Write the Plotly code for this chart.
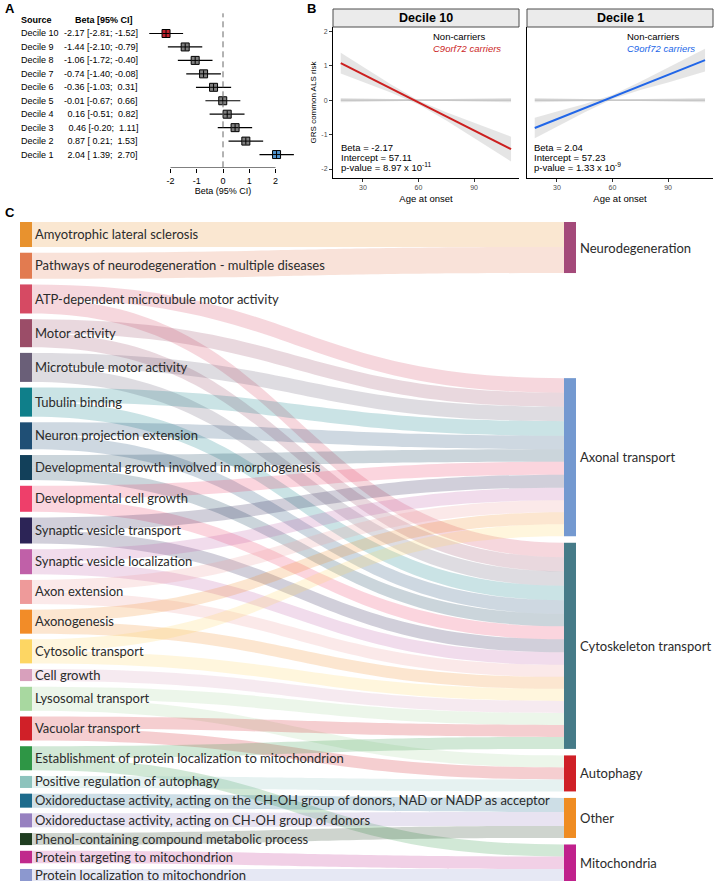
import plotly.graph_objects as go

W, H = 714, 883

# ======================= DATA =======================
# ---- Panel A : forest plot
deciles = ["Decile 10", "Decile 9", "Decile 8", "Decile 7", "Decile 6",
           "Decile 5", "Decile 4", "Decile 3", "Decile 2", "Decile 1"]
beta = [-2.17, -1.44, -1.06, -0.74, -0.36, -0.01, 0.16, 0.46, 0.87, 2.04]
ci_lower = [-2.81, -2.10, -1.72, -1.40, -1.03, -0.67, -0.51, -0.20, 0.21, 1.39]
ci_upper = [-1.52, -0.79, -0.40, -0.08, 0.31, 0.66, 0.82, 1.11, 1.53, 2.70]
forest_ticks = [-2, -1, 0, 1, 2]
forest_ticktext = ["-2", "-1", "0", "1", "2"]

# ---- Panel B : age at onset vs GRS
facet_titles = ["Decile 10", "Decile 1"]
fit_age = [18, 110]
carrier_fit_d10 = [1.07, -1.42]
carrier_fit_d1 = [-0.81, 1.16]
noncarrier_fit = [0.0, 0.0]
band_age = [18, 30, 45, 60, 75, 90, 110]
d10_lower = [0.77, 0.52, 0.22, -0.13, -0.59, -1.10, -1.78]
d10_upper = [1.37, 0.97, 0.46, -0.01, -0.35, -0.66, -1.06]
d1_lower = [-1.11, -0.77, -0.35, 0.03, 0.29, 0.51, 0.83]
d1_upper = [-0.51, -0.33, -0.11, 0.15, 0.53, 0.95, 1.49]
nc_lower = [-0.06, -0.045, -0.03, -0.02, -0.03, -0.045, -0.06]
nc_upper = [0.06, 0.045, 0.03, 0.02, 0.03, 0.045, 0.06]
stats_d10 = ["Beta = -2.17", "Intercept = 57.11", "p-value = 8.97 x 10<sup>-11</sup>"]
stats_d1 = ["Beta = 2.04", "Intercept = 57.23", "p-value = 1.33 x 10<sup>-9</sup>"]
age_ticks = [30, 60, 90]
grs_ticks = [-2, -1, 0, 1, 2]
grs_ticktext = ["-2", "-1", "0", "1", "2"]

# ---- Panel C : sankey
pathways = [
    "Amyotrophic lateral sclerosis",
    "Pathways of neurodegeneration - multiple diseases",
    "ATP-dependent microtubule motor activity",
    "Motor activity",
    "Microtubule motor activity",
    "Tubulin binding",
    "Neuron projection extension",
    "Developmental growth involved in morphogenesis",
    "Developmental cell growth",
    "Synaptic vesicle transport",
    "Synaptic vesicle localization",
    "Axon extension",
    "Axonogenesis",
    "Cytosolic transport",
    "Cell growth",
    "Lysosomal transport",
    "Vacuolar transport",
    "Establishment of protein localization to mitochondrion",
    "Positive regulation of autophagy",
    "Oxidoreductase activity, acting on the CH-OH group of donors, NAD or NADP as acceptor",
    "Oxidoreductase activity, acting on CH-OH group of donors",
    "Phenol-containing compound metabolic process",
    "Protein targeting to mitochondrion",
    "Protein localization to mitochondrion",
]
pathway_colors = [
    "#e8922e", "#e27b50", "#d64a63", "#9b4d68", "#6a5f78", "#0f7f8a",
    "#1f4f75", "#12405a", "#ee3f6a", "#2c2456", "#c060a8", "#ee9a9a",
    "#f28c28", "#fdd663", "#d8a0bc", "#a8d8a0", "#d02028", "#2e9645",
    "#8dc3bd", "#1d6b8c", "#9781c0", "#1f3d20", "#c02a8c", "#8c98cf",
]
categories = ["Neurodegeneration", "Axonal transport", "Cytoskeleton transport",
              "Autophagy", "Other", "Mitochondria"]
category_colors = ["#a44a7a", "#7499d0", "#467b88", "#cf2027", "#ef8c22", "#c0218c"]

link_source = [
    "Amyotrophic lateral sclerosis",
    "Pathways of neurodegeneration - multiple diseases",
    "ATP-dependent microtubule motor activity", "ATP-dependent microtubule motor activity",
    "Motor activity", "Motor activity",
    "Microtubule motor activity", "Microtubule motor activity",
    "Tubulin binding", "Tubulin binding",
    "Neuron projection extension", "Neuron projection extension",
    "Developmental growth involved in morphogenesis", "Developmental growth involved in morphogenesis",
    "Developmental cell growth", "Developmental cell growth",
    "Synaptic vesicle transport", "Synaptic vesicle transport",
    "Synaptic vesicle localization", "Synaptic vesicle localization",
    "Axon extension", "Axon extension",
    "Axonogenesis", "Axonogenesis",
    "Cytosolic transport", "Cytosolic transport",
    "Cell growth",
    "Lysosomal transport", "Lysosomal transport",
    "Vacuolar transport", "Vacuolar transport",
    "Establishment of protein localization to mitochondrion",
    "Establishment of protein localization to mitochondrion",
    "Positive regulation of autophagy",
    "Oxidoreductase activity, acting on the CH-OH group of donors, NAD or NADP as acceptor",
    "Oxidoreductase activity, acting on CH-OH group of donors",
    "Phenol-containing compound metabolic process",
    "Protein targeting to mitochondrion",
    "Protein localization to mitochondrion",
]
link_target = [
    "Neurodegeneration", "Neurodegeneration",
    "Axonal transport", "Cytoskeleton transport",
    "Axonal transport", "Cytoskeleton transport",
    "Axonal transport", "Cytoskeleton transport",
    "Axonal transport", "Cytoskeleton transport",
    "Axonal transport", "Cytoskeleton transport",
    "Axonal transport", "Cytoskeleton transport",
    "Axonal transport", "Cytoskeleton transport",
    "Axonal transport", "Cytoskeleton transport",
    "Axonal transport", "Cytoskeleton transport",
    "Axonal transport", "Cytoskeleton transport",
    "Axonal transport", "Cytoskeleton transport",
    "Axonal transport", "Cytoskeleton transport",
    "Cytoskeleton transport",
    "Cytoskeleton transport", "Autophagy",
    "Cytoskeleton transport", "Autophagy",
    "Cytoskeleton transport", "Mitochondria",
    "Autophagy",
    "Other", "Other", "Other",
    "Mitochondria", "Mitochondria",
]
link_value = [
    25, 26,
    14.5, 14.5,
    14, 14,
    14.5, 14.5,
    14.5, 14.5,
    13.5, 13.5,
    12.5, 12.5,
    13, 13,
    13, 13,
    12.5, 12.5,
    12, 12,
    12, 12,
    12, 12,
    12,
    12, 12,
    12, 12,
    12, 12,
    12,
    14, 14, 12,
    12.5, 12,
]

# ======================= HELPERS =======================
FONT = "Liberation Sans, Arial, sans-serif"
SK_FONT = "Lato, Noto Sans, sans-serif"


def fx(p):
    return p / W


def fy(p):
    return 1 - p / H


def rgba(hexc, a):
    hexc = hexc.lstrip("#")
    r, g, b = int(hexc[0:2], 16), int(hexc[2:4], 16), int(hexc[4:6], 16)
    return f"rgba({r},{g},{b},{a})"


def nb(v):
    s = f"{v:.2f}"
    return s if v < 0 else "\u00a0" + s


fig = go.Figure()
annotations = []
shapes = []

# ======================= PANEL A =======================
n_rows = len(deciles)
rows = list(range(n_rows, 0, -1))
box_colors = ["#808080"] * n_rows
box_colors[0] = "#c0232e"
box_colors[-1] = "#4f94cf"

fig.add_trace(go.Scatter(
    x=beta, y=rows, mode="markers", xaxis="x", yaxis="y", showlegend=False,
    marker=dict(symbol="square", size=8, color=box_colors, line=dict(color="black", width=1)),
    error_x=dict(type="data", symmetric=False,
                 array=[u - b for u, b in zip(ci_upper, beta)],
                 arrayminus=[b - l for l, b in zip(ci_lower, beta)],
                 color="black", thickness=1.2, width=0),
    hoverinfo="skip"))
fig.add_trace(go.Scatter(
    x=beta, y=rows, mode="markers", xaxis="x", yaxis="y", showlegend=False,
    marker=dict(symbol="cross-thin", size=5, line=dict(color="black", width=1)),
    hoverinfo="skip"))

shapes.append(dict(type="line", xref="x", yref="y", x0=0, x1=0, y0=0.05, y1=n_rows + 1.5,
                   line=dict(color="#666666", width=1, dash="6px,4px")))
shapes.append(dict(type="line", xref="x", yref="y", x0=forest_ticks[0], x1=forest_ticks[-1],
                   y0=0, y1=0, line=dict(color="black", width=1)))

annotations.append(dict(text="<b>Source</b>", xref="paper", yref="y", x=fx(19), y=n_rows + 1,
                        xanchor="left", yanchor="middle", showarrow=False,
                        font=dict(family=FONT, size=9, color="black")))
annotations.append(dict(text="<b>Beta [95% CI]</b>", xref="paper", yref="y", x=fx(104), y=n_rows + 1,
                        xanchor="center", yanchor="middle", showarrow=False,
                        font=dict(family=FONT, size=9, color="black")))
for lab, b, lo, hi, r in zip(deciles, beta, ci_lower, ci_upper, rows):
    annotations.append(dict(text=lab, xref="paper", yref="y", x=fx(19), y=r,
                            xanchor="left", yanchor="middle", showarrow=False,
                            font=dict(family=FONT, size=9, color="black")))
    annotations.append(dict(text=f"{nb(b)} [{nb(lo)}; {nb(hi)}]", xref="paper", yref="y",
                            x=fx(139.5), y=r, xanchor="right", yanchor="middle", showarrow=False,
                            font=dict(family=FONT, size=9, color="black")))

# ======================= PANEL B =======================
facet_axes = [("x2", "y2"), ("x3", "y3")]
carrier_fits = [carrier_fit_d10, carrier_fit_d1]
carrier_lows = [d10_lower, d1_lower]
carrier_highs = [d10_upper, d1_upper]
carrier_colors = ["#cc1f1f", "#2166e8"]
stats_all = [stats_d10, stats_d1]

for k, (xa, ya) in enumerate(facet_axes):
    fig.add_trace(go.Scatter(
        x=band_age + band_age[::-1], y=nc_lower + nc_upper[::-1], fill="toself",
        fillcolor="rgba(153,153,153,0.25)", line=dict(width=0), mode="lines",
        xaxis=xa, yaxis=ya, showlegend=False, hoverinfo="skip"))
    fig.add_trace(go.Scatter(
        x=fit_age, y=noncarrier_fit, mode="lines", line=dict(color="#bdbdbd", width=1.3),
        xaxis=xa, yaxis=ya, showlegend=False, hoverinfo="skip"))
    fig.add_trace(go.Scatter(
        x=band_age + band_age[::-1], y=carrier_lows[k] + carrier_highs[k][::-1], fill="toself",
        fillcolor="rgba(153,153,153,0.25)", line=dict(width=0), mode="lines",
        xaxis=xa, yaxis=ya, showlegend=False, hoverinfo="skip"))
    fig.add_trace(go.Scatter(
        x=fit_age, y=carrier_fits[k], mode="lines", line=dict(color=carrier_colors[k], width=2),
        xaxis=xa, yaxis=ya, showlegend=False, hoverinfo="skip"))

    shapes.append(dict(type="rect", xref=f"{xa} domain", yref=f"{ya} domain",
                       x0=0, x1=1, y0=1.0, y1=1 + 18 / 151,
                       fillcolor="#ebebeb", line=dict(color="#4d4d4d", width=1)))
    annotations.append(dict(text=f"<b>{facet_titles[k]}</b>", xref=f"{xa} domain", yref=f"{ya} domain",
                            x=0.5, y=1 + 9 / 151, xanchor="center", yanchor="middle", showarrow=False,
                            font=dict(family=FONT, size=12.5, color="black")))
    annotations.append(dict(text="Non-carriers", xref=xa, yref=ya, x=67, y=1.83,
                            xanchor="left", yanchor="middle", showarrow=False,
                            font=dict(family=FONT, size=9.5, color="black")))
    annotations.append(dict(text="<i>C9orf72 carriers</i>", xref=xa, yref=ya, x=67, y=1.5,
                            xanchor="left", yanchor="middle", showarrow=False,
                            font=dict(family=FONT, size=9.5, color=carrier_colors[k])))
    for txt, yy in zip(stats_all[k], [-1.38, -1.67, -1.95]):
        annotations.append(dict(text=txt, xref=xa, yref=ya, x=17 if k == 0 else 16.5, y=yy,
                                xanchor="left", yanchor="middle", showarrow=False,
                                font=dict(family=FONT, size=9.5, color="black")))

# ======================= PANEL C =======================
SK_TOP, SK_BOT, SK_LEFT, SK_RIGHT = 222, 881, 20, 576
THICK = 12
sk_h = SK_BOT - SK_TOP
sk_w = SK_RIGHT - SK_LEFT
node_pad = 5.7
right_gap = 6.5

src_tot = {p: 0.0 for p in pathways}
tgt_tot = {c: 0.0 for c in categories}
for s, t, v in zip(link_source, link_target, link_value):
    src_tot[s] += v
    tgt_tot[t] += v
ky = (sk_h - (len(pathways) - 1) * node_pad) / sum(src_tot.values())

left_centers = []
ycur = 0.0
for p in pathways:
    h = src_tot[p] * ky
    left_centers.append(ycur + h / 2)
    ycur += h + node_pad

right_centers = [0.0] * len(categories)
right_centers[0] = tgt_tot[categories[0]] * ky / 2
ycur = sk_h
for i in range(len(categories) - 1, 0, -1):
    h = tgt_tot[categories[i]] * ky
    right_centers[i] = ycur - h / 2
    ycur -= h + right_gap

node_x = [(THICK / 2) / sk_w] * len(pathways) + [(sk_w - THICK / 2) / sk_w] * len(categories)
node_y = [c / sk_h for c in left_centers] + [c / sk_h for c in right_centers]

all_nodes = pathways + categories
nidx = {n: i for i, n in enumerate(all_nodes)}
all_colors = pathway_colors + category_colors

sk_font = dict(family=SK_FONT, size=13, color="#2b2b2b")
sankey_kwargs = dict(
    domain=dict(x=[fx(SK_LEFT), fx(SK_RIGHT)], y=[fy(SK_BOT), fy(SK_TOP)]),
    arrangement="fixed",
    node=dict(label=pathways + [""] * len(categories), color=all_colors,
              x=node_x, y=node_y, pad=node_pad, thickness=THICK,
              line=dict(width=0), hoverinfo="skip"),
    link=dict(source=[nidx[s] for s in link_source], target=[nidx[t] for t in link_target],
              value=link_value, color=[rgba(pathway_colors[nidx[s]], 0.22) for s in link_source],
              hoverinfo="skip"),
)
try:
    sk = go.Sankey(textfont=dict(**sk_font, shadow="none"), **sankey_kwargs)
except Exception:
    sk = go.Sankey(textfont=sk_font, **sankey_kwargs)
fig.add_trace(sk)

# right-hand category labels (placed to the right of their node bars)
for c, yc in zip(categories, right_centers):
    annotations.append(dict(text=c, xref="paper", yref="paper", x=fx(SK_RIGHT + 2), y=fy(SK_TOP + yc),
                            xanchor="left", yanchor="middle", showarrow=False, font=sk_font))

# panel letters
for letter, (px_, py_) in zip(["A", "B", "C"], [(3, 8), (305, 8), (3, 213)]):
    annotations.append(dict(text=f"<b>{letter}</b>", xref="paper", yref="paper", x=fx(px_), y=fy(py_),
                            xanchor="left", yanchor="middle", showarrow=False,
                            font=dict(family=FONT, size=13, color="black")))

# ======================= LAYOUT =======================
tick_small = dict(family=FONT, size=7, color="#4d4d4d")
fig.update_layout(
    width=W, height=H, margin=dict(l=0, r=0, t=0, b=0),
    paper_bgcolor="white", plot_bgcolor="rgba(0,0,0,0)",
    font=dict(family=FONT), showlegend=False,
    xaxis=dict(domain=[fx(144.25), fx(301.75)], range=[-3, 3], anchor="y",
               showgrid=False, zeroline=False, showline=False,
               ticks="outside", ticklen=4, tickcolor="black", tickwidth=1,
               tickvals=forest_ticks, ticktext=forest_ticktext,
               tickfont=dict(family=FONT, size=9, color="black"),
               title=dict(text="Beta (95% CI)", font=dict(family=FONT, size=9, color="black"), standoff=2)),
    yaxis=dict(domain=[fy(168), fy(6.6)], range=[0, 12], anchor="x", visible=False),
    xaxis2=dict(domain=[fx(333), fx(519)], range=[13.8, 114.3], anchor="y2",
                showgrid=False, zeroline=False, showline=True, linecolor="black", linewidth=1,
                ticks="outside", ticklen=3, tickcolor="#333333", tickvals=age_ticks,
                tickfont=tick_small,
                title=dict(text="Age at onset", font=dict(family=FONT, size=9.5, color="black"), standoff=4)),
    yaxis2=dict(domain=[fy(178), fy(27)], range=[-2.26, 2.12], anchor="x2",
                showgrid=False, zeroline=False, showline=True, linecolor="black", linewidth=1,
                ticks="outside", ticklen=3, tickcolor="#333333",
                tickvals=grs_ticks, ticktext=grs_ticktext, tickfont=tick_small,
                title=dict(text="GRS common ALS risk", font=dict(family=FONT, size=8, color="black"), standoff=3)),
    xaxis3=dict(domain=[fx(527), fx(713)], range=[13.8, 114.3], anchor="y3",
                showgrid=False, zeroline=False, showline=True, linecolor="black", linewidth=1,
                ticks="outside", ticklen=3, tickcolor="#333333", tickvals=age_ticks,
                tickfont=tick_small,
                title=dict(text="Age at onset", font=dict(family=FONT, size=9.5, color="black"), standoff=4)),
    yaxis3=dict(domain=[fy(178), fy(27)], range=[-2.26, 2.12], anchor="x3",
                showgrid=False, zeroline=False, showline=True, linecolor="black", linewidth=1,
                ticks="", showticklabels=False),
    annotations=annotations, shapes=shapes,
)

fig.write_html("out.html", config={"displayModeBar": False},
               post_script="document.body.style.margin='0';document.body.style.padding='0';"
                           "document.documentElement.style.overflow='hidden';")
